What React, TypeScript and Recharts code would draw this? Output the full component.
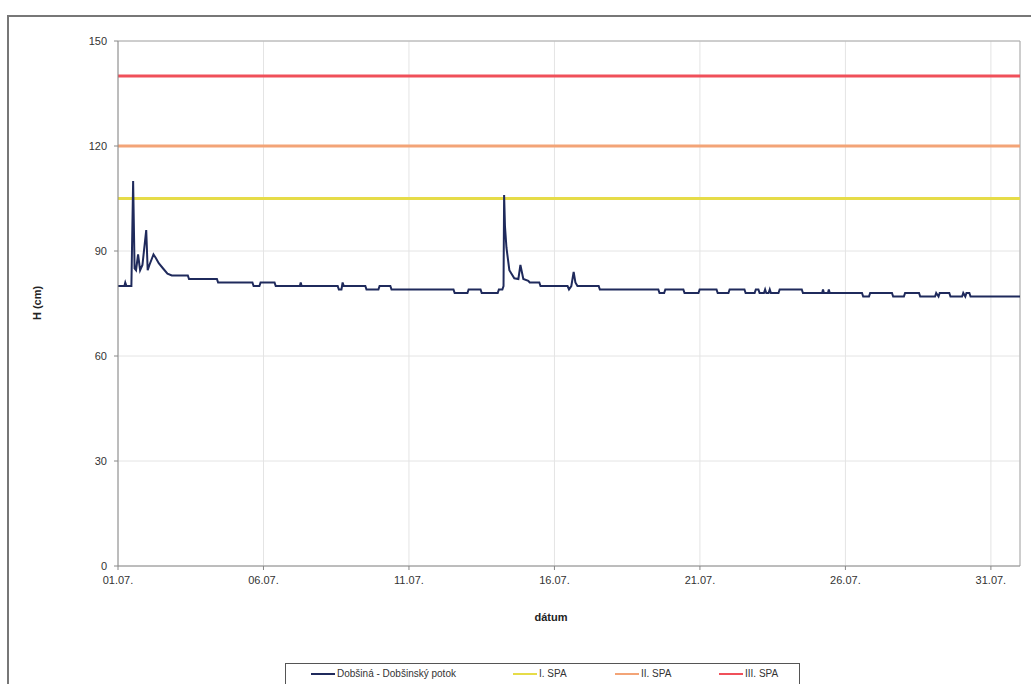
import { LineChart, Line, XAxis, YAxis, CartesianGrid, ReferenceLine } from "recharts";

// hourly water level, read at the break points of the curve: [day since 01.07. 00:00, H in cm]
const readings: [number, number][] = [
  [0.0, 80], [0.22, 80], [0.25, 81], [0.29, 80], [0.46, 80],
  [0.52, 110], [0.57, 85], [0.62, 84.5], [0.69, 89], [0.76, 84.5], [0.84, 86],
  [0.97, 96], [1.02, 84.5], [1.08, 86], [1.22, 89], [1.3, 88], [1.4, 86.5],
  [1.55, 85], [1.7, 83.5], [1.85, 83],
  [2.4, 83], [2.44, 82],
  [3.4, 82], [3.44, 81],
  [4.62, 81], [4.66, 80], [4.86, 80], [4.9, 81],
  [5.38, 81], [5.42, 80],
  [6.25, 80], [6.28, 81], [6.31, 80],
  [7.55, 80], [7.59, 79], [7.68, 79], [7.72, 81], [7.76, 80],
  [8.5, 80], [8.54, 79], [8.95, 79], [8.99, 80],
  [9.36, 80], [9.4, 79],
  [11.53, 79], [11.57, 78], [12.01, 78], [12.05, 79],
  [12.46, 79], [12.5, 78], [13.05, 78], [13.09, 79],
  [13.21, 79], [13.25, 80], [13.27, 106], [13.3, 97], [13.35, 91], [13.45, 84.5],
  [13.62, 82.2], [13.76, 82], [13.83, 86], [13.93, 82], [14.1, 81.5], [14.15, 81],
  [14.48, 81], [14.52, 80],
  [15.45, 80], [15.5, 79], [15.58, 80], [15.66, 84], [15.72, 81], [15.79, 80],
  [16.52, 80], [16.56, 79],
  [18.57, 79], [18.61, 78], [18.77, 78], [18.81, 79],
  [19.43, 79], [19.47, 78], [19.95, 78], [19.99, 79],
  [20.57, 79], [20.61, 78], [20.98, 78], [21.02, 79],
  [21.53, 79], [21.57, 78], [21.88, 78], [21.92, 79],
  [22.01, 79], [22.05, 78], [22.2, 78], [22.24, 79], [22.28, 78], [22.36, 78],
  [22.4, 79], [22.44, 78], [22.7, 78], [22.74, 79],
  [23.5, 79], [23.54, 78],
  [24.2, 78], [24.23, 79], [24.26, 78], [24.4, 78], [24.43, 79], [24.46, 78],
  [25.57, 78], [25.61, 77], [25.81, 77], [25.85, 78],
  [26.6, 78], [26.64, 77], [27.01, 77], [27.05, 78],
  [27.53, 78], [27.57, 77], [28.08, 77], [28.12, 78], [28.2, 77], [28.24, 78],
  [28.57, 78], [28.61, 77], [29.01, 77], [29.05, 78], [29.12, 77], [29.16, 78],
  [29.26, 78], [29.3, 77],
  [31.0, 77],
];

const seriesNames = ["Dobšiná - Dobšinský potok", "I. SPA", "II. SPA", "III. SPA"];
const seriesColors = ["#1f2a5c", "#e6dc48", "#f3a477", "#f0505a"];
const spaLevels = [105, 120, 140];

const dayTicks = [0, 5, 10, 15, 20, 25, 30];
const dayLabels = ["01.07.", "06.07.", "11.07.", "16.07.", "21.07.", "26.07.", "31.07."];
const levelTicks = [0, 30, 60, 90, 120, 150];

const font = "'Liberation Sans', Arial, sans-serif";
const legendLefts = [311, 513, 615, 719];

export default function App() {
  const levelData = readings.map(([day, cm]) => ({ day, cm }));
  const tick = { fontSize: 11, fill: "#333", fontFamily: font };

  return (
    <div
      style={{
        position: "absolute",
        left: 0,
        top: 0,
        width: 1031,
        height: 684,
        overflow: "hidden",
        background: "#fff",
        fontFamily: font,
      }}
    >
      <div
        style={{
          position: "absolute",
          left: 7,
          top: 15,
          width: 1060,
          height: 720,
          border: "2px solid #777",
          boxSizing: "border-box",
        }}
      />
      <div style={{ position: "absolute", left: 0, top: 0 }}>
        <LineChart width={1031} height={684} margin={{ top: 41, right: 11, left: 58, bottom: 78 }}>
          <CartesianGrid stroke="#e4e4e4" />
          <XAxis
            type="number"
            dataKey="day"
            domain={[0, 31]}
            ticks={dayTicks}
            tickFormatter={(v) => dayLabels[dayTicks.indexOf(v)]}
            tick={tick}
            height={40}
            stroke="#888"
            tickSize={4}
            tickMargin={6}
            allowDataOverflow
          />
          <YAxis
            type="number"
            domain={[0, 150]}
            ticks={levelTicks}
            tick={tick}
            width={60}
            stroke="#888"
            tickSize={4}
            tickMargin={7}
            allowDataOverflow
          />
          <ReferenceLine y={150} stroke="#aaa" />
          <ReferenceLine x={31} stroke="#aaa" />
          {spaLevels.map((lvl, i) => (
            <Line
              key={seriesNames[i + 1]}
              data={[
                { day: 0, spa: lvl },
                { day: 31, spa: lvl },
              ]}
              dataKey="spa"
              name={seriesNames[i + 1]}
              stroke={seriesColors[i + 1]}
              strokeWidth={3}
              dot={false}
              isAnimationActive={false}
            />
          ))}
          <Line
            data={levelData}
            dataKey="cm"
            name={seriesNames[0]}
            type="linear"
            stroke={seriesColors[0]}
            strokeWidth={2}
            dot={false}
            isAnimationActive={false}
          />
        </LineChart>
      </div>

      <div
        style={{
          position: "absolute",
          left: 37,
          top: 303,
          transform: "translate(-50%, -50%) rotate(-90deg)",
          fontSize: 11,
          fontWeight: "bold",
          color: "#222",
          whiteSpace: "nowrap",
        }}
      >
        H (cm)
      </div>
      <div
        style={{
          position: "absolute",
          left: 551,
          top: 617,
          transform: "translate(-50%, -50%)",
          fontSize: 11,
          fontWeight: "bold",
          color: "#222",
        }}
      >
        dátum
      </div>

      <div
        style={{
          position: "absolute",
          left: 285,
          top: 663,
          width: 515,
          height: 30,
          border: "1px solid #555",
          boxSizing: "border-box",
        }}
      />
      {seriesNames.map((name, i) => (
        <div
          key={name}
          style={{
            position: "absolute",
            left: legendLefts[i],
            top: 667,
            height: 13,
            display: "flex",
            alignItems: "center",
            fontSize: 10,
            color: "#333",
            whiteSpace: "nowrap",
          }}
        >
          <span
            style={{
              display: "inline-block",
              width: 24,
              height: 2,
              background: seriesColors[i],
              marginRight: 2,
            }}
          />
          {name}
        </div>
      ))}
    </div>
  );
}
